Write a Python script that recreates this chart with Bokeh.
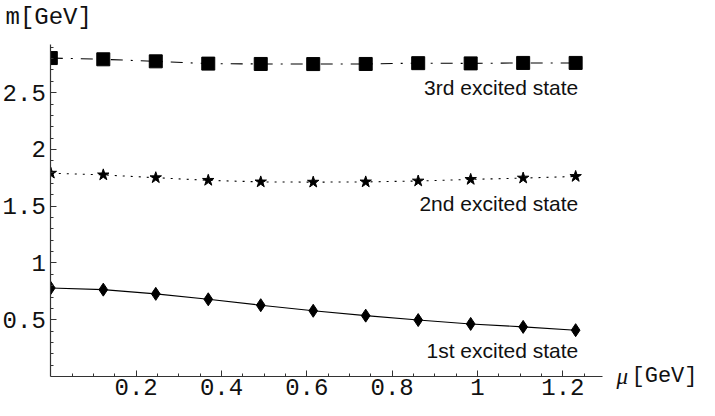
from bokeh.plotting import figure
from bokeh.models import Range1d, FixedTicker, Label, BoxAnnotation
from bokeh.embed import file_html
from bokeh.resources import INLINE

# ---- data ----
mu = [0.0, 0.123, 0.246, 0.369, 0.492, 0.615, 0.738, 0.861, 0.984, 1.107, 1.23]
m1 = [0.780, 0.765, 0.728, 0.680, 0.628, 0.579, 0.536, 0.497, 0.463, 0.437, 0.408]
m2 = [1.791, 1.776, 1.751, 1.728, 1.714, 1.712, 1.714, 1.722, 1.736, 1.748, 1.762]
m3 = [2.805, 2.794, 2.776, 2.756, 2.753, 2.752, 2.753, 2.760, 2.758, 2.762, 2.762]

series_labels = ["1st excited state", "2nd excited state", "3rd excited state"]
series_label_x = [1.236, 1.236, 1.236]
series_label_y = [0.226, 1.528, 2.548]

x_ticks = [0.2, 0.4, 0.6, 0.8, 1.0, 1.2]
x_tick_labels = ["0.2", "0.4", "0.6", "0.8", "1", "1.2"]
x_minor = [0.05, 0.1, 0.15, 0.25, 0.3, 0.35, 0.45, 0.5, 0.55, 0.65, 0.7, 0.75,
           0.85, 0.9, 0.95, 1.05, 1.1, 1.15, 1.25]
y_ticks = [0.5, 1.0, 1.5, 2.0, 2.5]
y_tick_labels = ["0.5", "1", "1.5", "2", "2.5"]
y_minor = [0.1, 0.2, 0.3, 0.4, 0.6, 0.7, 0.8, 0.9, 1.1, 1.2, 1.3, 1.4, 1.6, 1.7,
           1.8, 1.9, 2.1, 2.2, 2.3, 2.4, 2.6, 2.7, 2.8, 2.9]

x_max = 1.293   # end of the drawn mu axis
y_max = 2.927   # end of the drawn m axis

# ---- layout (canvas pixels) ----
W, H = 699, 400
PX_PER_X = 426.7          # horizontal scale
AXIS_LEFT = 50.3          # canvas x of the m axis (mu = 0)
AXIS_BOTTOM = 376.0       # canvas y of the mu axis (m = 0)
AXIS_TOP = 43.7           # canvas y of the top of the m axis
PX_PER_Y = (AXIS_BOTTOM - AXIS_TOP) / y_max

x0 = -AXIS_LEFT / PX_PER_X
x1 = x0 + W / PX_PER_X
y1 = y_max + AXIS_TOP / PX_PER_Y
y0 = y1 - H / PX_PER_Y

MONO = "Liberation Mono"
SANS = "Liberation Sans"
SERIF = "Liberation Serif"

p = figure(width=W, height=H,
           x_range=Range1d(x0, x1), y_range=Range1d(y0, y1),
           output_backend="svg", toolbar_location=None, min_border=0)
p.grid.visible = False
p.outline_line_color = None
p.background_fill_color = "white"
p.border_fill_color = "white"

for ax in (p.xaxis[0], p.yaxis[0]):
    ax.fixed_location = 0
    ax.axis_line_color = "#333333"
    ax.axis_line_width = 1.2
    ax.major_tick_line_color = "#333333"
    ax.minor_tick_line_color = "#333333"
    ax.major_tick_in = 6
    ax.major_tick_out = 0
    ax.minor_tick_in = 3
    ax.minor_tick_out = 0
    ax.major_label_text_font = MONO
    ax.major_label_text_font_size = "24px"
    ax.major_label_text_color = "#111111"

p.xaxis.bounds = (0, x_max)
p.xaxis.ticker = FixedTicker(ticks=x_ticks, minor_ticks=x_minor)
p.xaxis.major_label_overrides = {t: l for t, l in zip(x_ticks, x_tick_labels)}
p.xaxis.major_label_standoff = 2
p.yaxis.bounds = (0, y_max)
p.yaxis.ticker = FixedTicker(ticks=y_ticks, minor_ticks=y_minor)
p.yaxis.major_label_overrides = {t: l for t, l in zip(y_ticks, y_tick_labels)}
p.yaxis.major_label_standoff = 5

# 1st excited state: solid + diamonds
p.line(mu, m1, line_color="black", line_width=1.1)
p.scatter(mu, m1, marker="diamond", size=13, color="black")
# 2nd excited state: dotted + stars
p.line(mu, m2, line_color="black", line_width=1.1, line_dash="2 6")
p.scatter(mu, m2, marker="star", size=12, color="black")
# 3rd excited state: dash-dot + squares
p.line(mu, m3, line_color="black", line_width=1.1, line_dash="12 8 2 8")
p.scatter(mu, m3, marker="square", size=13, color="black")

# plot region clipping at mu = 0 (markers are cut by the axis, as in the reference)
p.add_layout(BoxAnnotation(right=0, fill_color="white", fill_alpha=1.0,
                           line_color=None, level="glyph"))

for t, x, y in zip(series_labels, series_label_x, series_label_y):
    p.add_layout(Label(x=x, y=y, text=t, text_align="right", text_baseline="middle",
                       text_font=SANS, text_font_size="21px", text_color="#111111"))

# axis titles
p.add_layout(Label(x=x0 + 5 / PX_PER_X, y=y1 - 17 / PX_PER_Y, text="m[GeV]",
                   text_align="left", text_baseline="middle", text_font=MONO,
                   text_font_size="24px", text_color="#111111"))
p.add_layout(Label(x=x0 + 616 / PX_PER_X, y=0.0, text="\u03bc", text_align="left",
                   text_baseline="middle", text_font=SERIF, text_font_style="italic",
                   text_font_size="23px", text_color="#111111"))
p.add_layout(Label(x=x0 + 631 / PX_PER_X, y=0.0, text="[GeV]", text_align="left",
                   text_baseline="middle", text_font=MONO, text_font_size="22px",
                   text_color="#111111"))

open("out.html", "w").write(file_html(p, INLINE))
